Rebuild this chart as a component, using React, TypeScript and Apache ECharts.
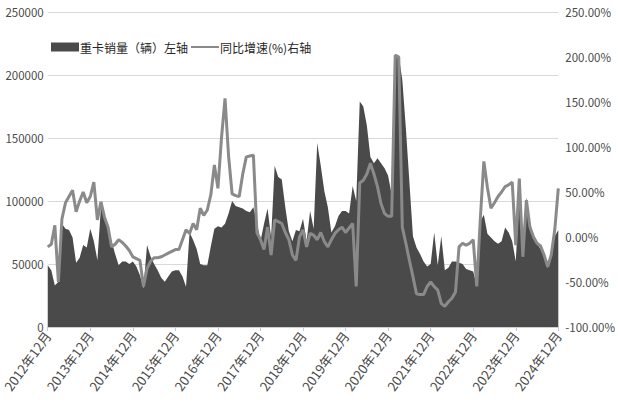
import React, { useEffect, useRef } from "react";
import * as echarts from "echarts";

// Months from 2012-12 to 2024-12
const months: string[] = (() => {
  const out: string[] = [];
  for (let y = 2012, m = 12; y < 2024 || (y === 2024 && m <= 12); ) {
    out.push(`${y}年${m}月`);
    m++;
    if (m > 12) { m = 1; y++; }
  }
  return out;
})();

// Heavy truck sales (thousand units)
const salesK: number[] = [
  49,
  45, 33, 36, 82, 78, 77, 71, 51, 55, 65, 63, 78,
  68, 53, 95, 88, 80, 68, 58, 49, 52, 52, 50, 52,
  48, 41, 31, 65, 56, 50, 45, 39, 36, 40, 44, 45,
  45, 40, 32, 75, 69, 62, 50, 49, 49, 64, 78, 80,
  79, 82, 90, 100, 96, 95, 94, 92, 91, 95, 83, 68,
  82, 94, 71, 128, 119, 117, 95, 76, 68, 77, 76, 86,
  68, 92, 78, 146, 128, 108, 95, 75, 80, 88, 92, 92,
  90, 112, 100, 179, 175, 160, 135, 130, 134, 130, 126, 120,
  105, 216, 215, 196, 158, 115, 72, 63, 58, 52, 48, 50,
  75, 49, 72, 45, 47, 52, 52, 51, 50, 46, 45, 44,
  33, 84, 89, 74, 71, 68, 66, 68, 79, 75, 68, 52,
  103, 70, 103, 80, 73, 66, 62, 55, 47, 58, 72, 77,
];

// Year-on-year growth (%)
const yoyPct: number[] = [
  -11,
  -8, 13, -50, 20, 38, 45, 52, 28, 40, 50, 38, 45,
  61, 19, 39, 22, 11, -11, -8, -3, -6, -10, -15, -22,
  -24, -26, -55, -35, -27, -23, -23, -22, -20, -18, -16, -14,
  -14, -3, 8, 4, 15, 8, 32, 24, 30, 47, 80, 54,
  110, 154, 90, 48, 46, 45, 70, 89, 90, 91, 5, -3,
  -14, 11, -20, 19, 17, 15, 5, -3, -20, -26, 0, 8,
  -11, 4, 2, -3, 5, -5, -11, -3, 4, 8, 11, 5,
  10, 15, -55, 60, 63, 70, 82, 70, 56, 37, 26, 23,
  23, 202, 200, 11, -7, -26, -44, -63, -64, -64, -55, -50,
  -55, -59, -74, -77, -72, -68, -61, -11, -7, -9, -7, -3,
  -55, 20, 84, 55, 32, 38, 45, 50, 56, 58, 61, -9,
  65, -22, 41, 11, 0, -7, -10, -20, -33, -20, 8, 54,
];

const leftTicks = { min: 0, max: 250000, interval: 50000 };
const rightTicks = { min: -100, max: 250, interval: 50 };
const legendNames = ["重卡销量（辆）左轴", "同比增速(%)右轴"];

export default function App() {
  const ref = useRef<HTMLDivElement>(null);
  useEffect(() => {
    if (!ref.current) return;
    const chart = echarts.init(ref.current, null, { renderer: "svg" });
    const font = "'Noto Sans CJK SC', 'Noto Sans', sans-serif";
    chart.setOption({
      animation: false,
      backgroundColor: "#ffffff",
      textStyle: { fontFamily: font },
      grid: { left: 43, right: 51, top: 12, bottom: 78, containLabel: false },
      legend: {
        left: 46,
        top: 36,
        itemGap: 2,
        itemWidth: 28,
        itemHeight: 9,
        textStyle: { fontSize: 12, color: "#262626", fontFamily: font, padding: [0, 0, 0, -4] },
        data: [
          { name: legendNames[0], icon: "rect" },
          { name: legendNames[1], itemStyle: { opacity: 0 } },
        ],
      },
      xAxis: {
        type: "category",
        data: months,
        boundaryGap: false,
        axisLine: { show: true, lineStyle: { color: "#d0d0d0", width: 1 } },
        axisTick: { show: true, interval: 11, length: 4, lineStyle: { color: "#c8c8c8" } },
        axisLabel: {
          interval: 11,
          rotate: 54,
          fontSize: 13,
          color: "#4a4a4a",
          fontFamily: font,
          margin: 6,
        },
        splitLine: { show: false },
      },
      yAxis: [
        {
          type: "value",
          min: leftTicks.min,
          max: leftTicks.max,
          interval: leftTicks.interval,
          axisLine: { show: false },
          axisTick: { show: false },
          axisLabel: {
            fontSize: 11.5,
            color: "#4a4a4a",
            fontFamily: font,
            margin: 4,
            formatter: (v: number) => String(v),
          },
          splitLine: { show: true, lineStyle: { color: "#d9d9d9", width: 1 } },
        },
        {
          type: "value",
          min: rightTicks.min,
          max: rightTicks.max,
          interval: rightTicks.interval,
          axisLine: { show: false },
          axisTick: { show: false },
          axisLabel: {
            fontSize: 11.5,
            color: "#4a4a4a",
            fontFamily: font,
            margin: 7,
            formatter: (v: number) => v.toFixed(2) + "%",
          },
          splitLine: { show: false },
        },
      ],
      series: [
        {
          name: legendNames[0],
          type: "line",
          yAxisIndex: 0,
          data: salesK.map((v) => v * 1000),
          symbol: "none",
          lineStyle: { width: 0, color: "#4a4a4a" },
          itemStyle: { color: "#4a4a4a" },
          areaStyle: { color: "#4a4a4a", opacity: 1 },
          z: 2,
        },
        {
          name: legendNames[1],
          type: "line",
          yAxisIndex: 1,
          data: yoyPct,
          symbol: "none",
          lineStyle: { width: 3, color: "#8a8a8a" },
          itemStyle: { color: "#8a8a8a" },
          z: 3,
        },
      ],
    });
    return () => chart.dispose();
  }, []);
  return <div ref={ref} style={{ width: 618, height: 405, position: "absolute", left: 0, top: 0 }} />;
}
